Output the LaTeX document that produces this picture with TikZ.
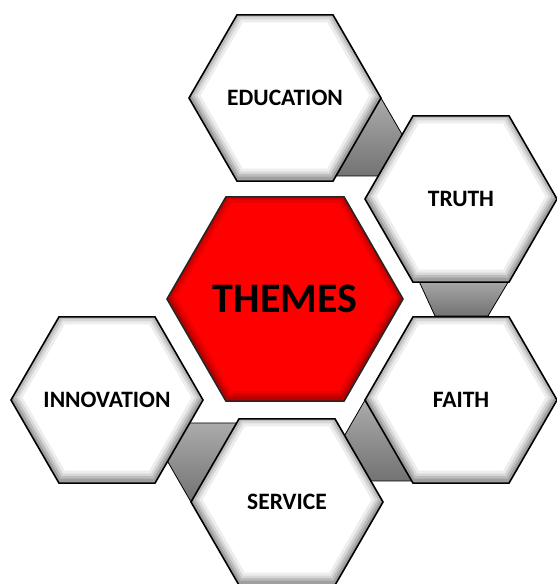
\documentclass[tikz,border=0pt]{standalone}
\usepackage{fontspec}
\setmainfont{Carlito}
\usetikzlibrary{calc}
\definecolor{themered}{RGB}{255,0,0}
\tikzset{My Hex Style/.style={line width=1.6pt, draw=black, line join=miter},
	My Link Style/.style={draw=black, line width=0.8pt, top color=black!33, bottom color=black!55, line join=round},
	My Label Style/.style={font=\bfseries\fontsize{23.5}{23.5}\selectfont, inner sep=0pt, text=black}}
\newcommand{\hexpath}[2]{(#1) ++(0:#2) -- ++(120:#2) -- ++(180:#2) -- ++(240:#2) -- ++(300:#2) -- ++(0:#2) -- cycle}

\begin{document}
\begin{tikzpicture}[x=1pt,y=1pt]
	\useasboundingbox (0,0) rectangle (557,584);
	\coordinate (edu) at (285,486);
	\coordinate (truth) at (461,385);
	\coordinate (themes) at (285,285);
	\coordinate (faith) at (461,184);
	\coordinate (innov) at (107,184);
	\coordinate (serv) at (287,82);
	
	% links between the cells
	\draw [My Link Style] ($(edu)+(96,0)$) -- ($(truth)+(-58.8,64.4)$) -- ($(truth)+(-82.7,23)$) -- ($(edu)+(51,-78)$) -- cycle;
	\draw [My Link Style] ($(truth)+(-43,-80)$) -- ($(truth)+(49,-80)$) -- ($(faith)+(27,84)$) -- ($(faith)+(-26,84)$) -- cycle;
	\draw [My Link Style] ($(faith)+(-96,0)$) -- ($(serv)+(57.6,66.6)$) -- ($(serv)+(83.9,21)$) -- ($(faith)+(-49.2,-81)$) -- cycle;
	\draw [My Link Style] ($(serv)+(-96,0)$) -- ($(innov)+(60.6,-61.4)$) -- ($(innov)+(82.7,-23)$) -- ($(serv)+(-50.4,79)$) -- cycle;
	
	% white cells
	\foreach \c in {edu,truth,faith,innov,serv}{%
		\fill [white] \hexpath{\c}{96};
		\begin{scope}
			\clip \hexpath{\c}{96};
			\foreach \w/\o in {20/0.07,14/0.09,9/0.12,4/0.15}{%
				\draw [black, line width=\w pt, opacity=\o, line join=miter] \hexpath{$(\c)+(0,2.5)$}{96};
			}
		\end{scope}
		\draw [My Hex Style] \hexpath{\c}{96};
	}
	
	% centre cell
	\fill [themered] \hexpath{themes}{118};
	\begin{scope}
		\clip \hexpath{themes}{118};
		\foreach \w/\o in {16/0.08,10/0.1,5/0.14}{%
			\draw [black, line width=\w pt, opacity=\o, line join=miter] \hexpath{$(themes)+(0,2)$}{118};
		}
	\end{scope}
	\draw [My Hex Style, draw=black!85] \hexpath{themes}{118};
	
	\node [My Label Style] (edutext) at (edu) {EDUCATION};
	\node [My Label Style] (truthtext) at (truth) {TRUTH};
	\node [My Label Style] (faithtext) at (faith) {FAITH};
	\node [My Label Style] (innovtext) at (innov) {INNOVATION};
	\node [My Label Style] (servtext) at (serv) {SERVICE};
	\node [My Label Style, font=\bfseries\fontsize{42}{42}\selectfont] (themestext) at (themes) {THEMES};
\end{tikzpicture}
\end{document}
